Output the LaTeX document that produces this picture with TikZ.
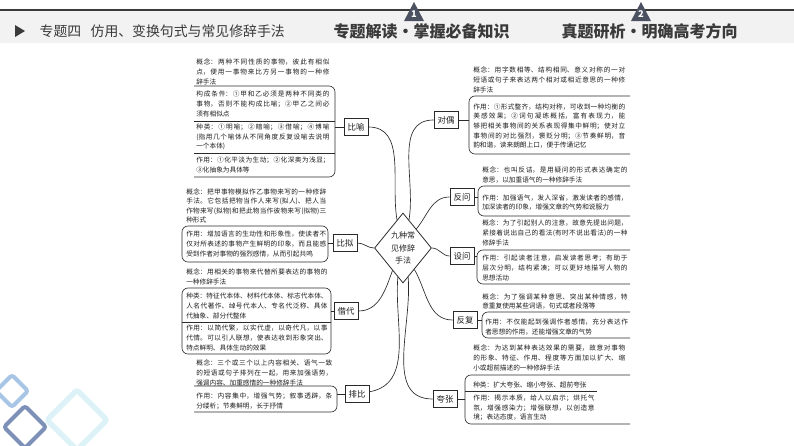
\documentclass[tikz,border=0pt]{standalone}
\usepackage{fontspec}
\setmainfont{Noto Sans CJK SC}
\usetikzlibrary{shapes.geometric}
\definecolor{ink}{HTML}{1E1E1E}
\definecolor{ln}{HTML}{2A2A2A}
\definecolor{hd}{HTML}{3A3A3A}
\definecolor{band}{HTML}{F2F2F2}
\definecolor{tri}{HTML}{4B5160}
\definecolor{dA}{HTML}{A9C5E6}
\definecolor{dB}{HTML}{7D90B8}
\definecolor{dC}{HTML}{DDF2F6}
\XeTeXlinebreaklocale "zh"
\XeTeXlinebreakskip=0pt plus 2pt
\setlength{\parindent}{0pt}
\newcommand{\lb}{\linebreak}
\tikzset{
  kind/.style={draw=ln,line width=0.6pt,fill=white,text=ink,inner sep=1pt,
    minimum width=18pt,minimum height=12.5pt,font=\fontsize{6.3}{7}\selectfont},
  hub/.style={diamond,draw=ln,line width=0.6pt,aspect=0.8,inner sep=0pt,align=center,
    minimum width=42.75pt,minimum height=52.5pt,text=ink,font=\fontsize{6}{9.4}\selectfont},
  leaf/.style={anchor=west,align=justify,inner sep=0pt,text=ink,text width=#1,
    font=\fontsize{5}{7.2}\selectfont},
  leaf/.default=100pt,
  brk/.style={draw=ln,line width=0.5pt,rounded corners=4.5pt},
  lk/.style={draw=ln,line width=0.5pt},
  deco/.style={line width=3pt,rounded corners=2pt},
}

\begin{document}
\begin{tikzpicture}[x=0.75pt,y=-0.75pt]
  \useasboundingbox (0,0) rectangle (794,446);
  % ---- corner decoration
  \draw[deco,dC,line width=4pt] (77,390) -- (107,420) -- (77,450) -- (47,420) -- cycle;
  \draw[deco,dA] (12,375) -- (28,391) -- (12,407) -- (-4,391) -- cycle;
  \draw[deco,dB] (25,406) -- (46,427) -- (25,448) -- (4,427) -- cycle;

  % ---- header
  \fill[band] (0,11) rectangle (794,43);
  \draw[hd,line width=0.8pt] (0,10) -- (794,10);
  \fill[hd] (15,25) -- (25,31) -- (15,37) -- cycle;
  \node[anchor=west,text=hd,font=\fontsize{10.4}{12}\selectfont] (ttl) at (35,31)
    {专题四\hspace{7pt}仿用、变换句式与常见修辞手法};
  \node[anchor=west,text=hd,font=\fontsize{12}{14}\selectfont\bfseries] (h1) at (329,31)
    {专题解读·掌握必备知识};
  \node[anchor=west,text=hd,font=\fontsize{12}{14}\selectfont\bfseries] (h2) at (557,31)
    {真题研析·明确高考方向};
  \fill[tri] (414,2) -- (424,21) -- (404,21) -- cycle;
  \fill[tri] (641,2) -- (651,21) -- (631,21) -- cycle;
  \node[text=white,font=\fontsize{7}{8}\selectfont\bfseries] (n1) at (414,14) {1};
  \node[text=white,font=\fontsize{7}{8}\selectfont\bfseries] (n2) at (641,14) {2};

  % ---- centre
  \node[hub] (c) at (403,248) {九种常\\见修辞\\手法};

  % ---- left: 比喻 比拟 借代 排比
  \node[kind] (by) at (356,127) {比喻};
  \node[kind] (bn) at (345,243) {比拟};
  \node[kind] (jd) at (346,311) {借代};
  \node[kind] (pb) at (357,394) {排比};

  \draw[brk] (194,86) -- (335,86) -- (335,177) -- (194,177);
  \draw[lk] (194,121) -- (335,121);
  \draw[lk] (194,153) -- (335,153);
  \draw[brk] (182,226) rectangle (328,262);
  \draw[brk] (182,288) rectangle (331,354);
  \draw[lk] (182,322) -- (331,322);
  \draw[brk] (194,386) -- (337,386) -- (337,412) -- (194,412);
  \coordinate (by-k) at (335,127);
  \coordinate (bn-k) at (328,243);
  \coordinate (jd-k) at (331,311);
  \coordinate (pb-k) at (337,394);

  \node[leaf=100pt] (by-def) at (196,72) {概念：两种不同性质的事物，彼此有相似\lb 点，便用一事物来比方另一事物的一种修\lb 辞手法};
  \node[leaf=100pt] (by-gc) at (196,104) {构成条件：①甲和乙必须是两种不同类的\lb 事物，否则不能构成比喻；②甲乙之间必\lb 须有相似点};
  \node[leaf=100pt] (by-zl) at (196,137) {种类：①明喻；②暗喻；③借喻；④博喻\lb (指用几个喻体从不同角度反复设喻去说明\lb 一个本体)};
  \node[leaf=100pt] (by-zy) at (196,165) {作用：①化平淡为生动；②化深奥为浅显；\lb ③化抽象为具体等};
  \node[leaf=105pt] (bn-def) at (186,206) {概念：把甲事物模拟作乙事物来写的一种修辞\lb 手法。它包括把物当作人来写(拟人)、把人当\lb 作物来写(拟物)和把此物当作彼物来写(拟物)三\lb 种形式};
  \node[leaf=105pt] (bn-zy) at (186,244) {作用：增加语言的生动性和形象性，使读者不\lb 仅对所表述的事物产生鲜明的印象，而且能感\lb 受到作者对事物的强烈感情，从而引起共鸣};
  \node[leaf=106pt] (jd-def) at (186,277) {概念：用相关的事物来代替所要表达的事物的\lb 一种修辞手法};
  \node[leaf=106pt] (jd-zl) at (186,306) {种类：特征代本体、材料代本体、标志代本体、\lb 人名代著作、绰号代本人、专名代泛称、具体\lb 代抽象、部分代整体};
  \node[leaf=106pt] (jd-zy) at (186,338) {作用：以简代繁，以实代虚，以奇代凡，以事\lb 代情。可以引人联想，使表达收到形象突出、\lb 特点鲜明、具体生动的效果};
  \node[leaf=102pt] (pb-def) at (196,373) {概念：三个或三个以上内容相关、语气一致\lb 的短语或句子排列在一起，用来加强语势，\lb 强调内容、加重感情的一种修辞手法};
  \node[leaf=102pt] (pb-zy) at (196,401.5) {作用：内容集中，增强气势；叙事透辟，条\lb 分缕析；节奏鲜明，长于抒情};

  % ---- right: 对偶 反问 设问 反复 夸张
  \node[kind] (do) at (446,120) {对偶};
  \node[kind] (fw) at (462,197) {反问};
  \node[kind] (sw) at (462,256) {设问};
  \node[kind] (ff) at (465,320) {反复};
  \node[kind] (kz) at (445,399) {夸张};

  \draw[brk] (630,96) -- (469,96) -- (469,154) -- (630,154);
  \draw[brk] (630,186) -- (478,186) -- (478,216) -- (630,216);
  \draw[brk] (630,250) -- (477,250) -- (477,284) -- (630,284);
  \draw[brk] (630,312) -- (482,312) -- (482,338) -- (630,338);
  \draw[brk] (630,375) -- (465,375) -- (465,424) -- (630,424);
  \draw[lk] (465,391) -- (597,391);
  \coordinate (do-k) at (469,120);
  \coordinate (fw-k) at (478,197);
  \coordinate (sw-k) at (477,256);
  \coordinate (ff-k) at (482,320);
  \coordinate (kz-k) at (465,399);

  \node[leaf=114pt] (do-def) at (473,80) {概念：用字数相等、结构相同、意义对称的一对\lb 短语或句子来表达两个相对或相近意思的一种修\lb 辞手法};
  \node[leaf=114pt] (do-zy) at (473,126) {作用：①形式整齐，结构对称，可收到一种均衡的\lb 美感效果；②词句凝练概括，富有表现力，能\lb 够把相关事物间的关系表现得集中鲜明；使对立\lb 事物间的对比强烈，褒贬分明；③节奏鲜明，音\lb 韵和谐，读来朗朗上口，便于传诵记忆};
  \node[leaf=109pt] (fw-def) at (482,175) {概念：也叫反诘，是用疑问的形式表达确定的\lb 意思，以加重语气的一种修辞手法};
  \node[leaf=109pt] (fw-zy) at (482,202.5) {作用：加强语气，发人深省，激发读者的感情，\lb 加深读者的印象，增强文章的气势和说服力};
  \node[leaf=109pt] (sw-def) at (482,233) {概念：为了引起别人的注意，故意先提出问题，\lb 紧接着说出自己的看法(有时不说出看法)的一种\lb 修辞手法};
  \node[leaf=109pt] (sw-zy) at (482,268) {作用：引起读者注意，启发读者思考；有助于\lb 层次分明，结构紧凑；可以更好地描写人物的\lb 思想活动};
  \node[leaf=109pt] (ff-def) at (482,301.5) {概念：为了强调某种意思、突出某种情感，特\lb 意重复使用某些词语，句式或者段落等};
  \node[leaf=107pt] (ff-zy) at (485,327) {作用：不仅能起到强调作者感情，充分表达作\lb 者思想的作用，还能增强文章的气势};
  \node[leaf=114pt] (kz-def) at (473,358) {概念：为达到某种表达效果的需要，故意对事物\lb 的形象、特征、作用、程度等方面加以扩大、缩\lb 小或超前描述的一种修辞手法};
  \node[leaf=114pt] (kz-zl) at (473,385) {种类：扩大夸张、缩小夸张、超前夸张};
  \node[leaf=91pt] (kz-zy) at (473,408) {作用：揭示本质，给人以启示；烘托气\lb 氛，增强感染力；增强联想，以创造意\lb 境；表达态度，语言生动};

  % ---- links
  \foreach \n in {by,bn,jd,pb,do,fw,sw,ff,kz} \draw[lk] (\n-k) -- (\n);
  \foreach \n/\o/\i/\a in {by/0/100/102,do/180/80/78,bn/0/180/180,sw/180/0/0,
      fw/180/50/55,jd/0/-110/-115,pb/10/-95/-100,kz/180/-85/-80,ff/180/-60/-62}
    \draw[lk] (\n) to[out=\o,in=\i] (c.\a);
\end{tikzpicture}
\end{document}
